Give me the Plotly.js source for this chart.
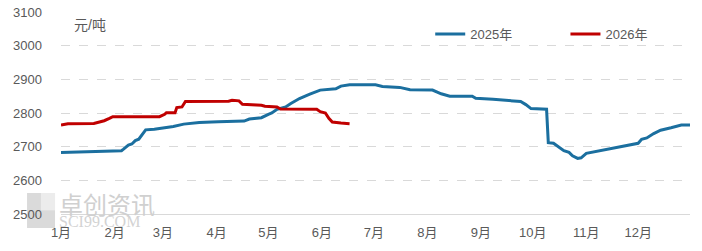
<!DOCTYPE html>
<html><head><meta charset="utf-8">
<script src="https://cdn.plot.ly/plotly-3.0.1.min.js"></script>
<style>html,body{margin:0;padding:0;background:#fff}#chart{width:702px;height:251px}</style>
</head><body><div id="chart"></div>
<script>
// Month-day positions (shared calendar axis)
const dates2025 = ["01-01","01-12","01-23","02-05","02-06","02-09","02-11","02-13","02-15","02-17","02-19","02-24","03-02","03-07","03-13","03-22","04-02","04-17","04-20","04-27","05-01","05-03","05-06","05-11","05-14","05-19","05-25","05-31","06-09","06-12","06-17","07-02","07-06","07-16","07-22","08-04","08-09","08-14","08-27","08-29","09-08","09-18","09-24","09-27","09-30","10-09","10-10","10-13","10-16","10-19","10-22","10-24","10-27","10-29","11-01","11-05","11-12","11-21","11-27","12-01","12-03","12-06","12-10","12-14","12-20","12-26","12-31"];
const values2025 = [2683,2684,2686,2688,2692,2705,2708,2718,2722,2735,2750,2752,2756,2760,2767,2772,2774,2776,2782,2786,2796,2800,2811,2818,2828,2843,2856,2868,2872,2880,2884,2884,2879,2876,2869,2868,2857,2850,2850,2844,2841,2836,2834,2825,2813,2811,2712,2710,2700,2688,2683,2673,2665,2667,2680,2684,2690,2698,2705,2710,2722,2726,2739,2749,2756,2764,2764];
const dates2026 = ["01-01","01-05","01-20","01-23","01-26","01-29","01-31","02-27","03-02","03-03","03-08","03-09","03-12","03-14","04-08","04-10","04-14","04-16","04-27","04-29","05-06","05-08","05-29","05-31","06-03","06-05","06-07","06-12","06-17"];
const values2026 = [2764,2768,2769,2773,2777,2784,2789,2789,2796,2801,2801,2816,2818,2834,2835,2838,2836,2826,2823,2820,2818,2812,2811,2804,2800,2784,2773,2770,2768];
const seriesNames = ["2025年","2026年"];
const monthLabels = ["1月","2月","3月","4月","5月","6月","7月","8月","9月","10月","11月","12月"];
const yTicks = [2500,2600,2700,2800,2900,3000,3100];
const unitLabel = "元/吨";

const Y = "2025-";
const toX = a => a.map(d => Y + d);
const tickvals = monthLabels.map((_, i) => Y + String(i + 1).padStart(2, "0") + "-01");
const font = "Liberation Sans, Noto Sans CJK SC, sans-serif";

const traces = [
  {x: toX(dates2025), y: values2025, name: seriesNames[0], mode: "lines", legend: "legend",
   line: {color: "#1b6f9f", width: 3}},
  {x: toX(dates2026), y: values2026, name: seriesNames[1], mode: "lines", legend: "legend2",
   line: {color: "#c00000", width: 3}}
];

const legendBase = {orientation: "h", y: 0.965, xanchor: "left", yanchor: "top",
  bgcolor: "rgba(0,0,0,0)", font: {size: 13, color: "#595959"}, itemwidth: 30};

const layout = {
  width: 702, height: 251,
  margin: {l: 61, r: 12, t: 12, b: 37},
  paper_bgcolor: "#fff", plot_bgcolor: "#fff",
  font: {family: font, size: 13, color: "#595959"},
  showlegend: true,
  legend: Object.assign({}, legendBase, {x: 0.587}),
  legend2: Object.assign({}, legendBase, {x: 0.802}),
  xaxis: {type: "date", range: [Y + "01-01", Y + "12-31"], tickvals: tickvals, ticktext: monthLabels,
          showgrid: false, zeroline: false, showline: true, linecolor: "#d9d9d9", linewidth: 1,
          ticks: "", ticklabelstandoff: 6, tickfont: {size: 13, color: "#595959"}},
  yaxis: {range: [2500, 3100], tickvals: yTicks, showgrid: true, gridcolor: "#d9d9d9",
          griddash: "dash", gridwidth: 1, zeroline: false, showline: false, ticks: "",
          ticklabelstandoff: 18, tickfont: {size: 13, color: "#595959"}},
  annotations: [
    {text: unitLabel, xref: "paper", yref: "paper", x: 0.018, y: 0.985, xanchor: "left", yanchor: "top",
     showarrow: false, font: {size: 14, color: "#595959"}},
    {text: "卓创资讯", xref: "paper", yref: "paper", x: -0.006, y: 0.05, xanchor: "left", yanchor: "middle",
     showarrow: false, font: {size: 24, color: "#d0d0d0", family: "Noto Sans CJK SC"}},
    {text: "SCI99.COM", xref: "paper", yref: "paper", x: -0.006, y: -0.035, xanchor: "left", yanchor: "middle",
     showarrow: false, font: {size: 16, color: "#d3d3d3", family: "Liberation Serif"}}
  ],
  shapes: [
    {type: "rect", xref: "paper", yref: "paper", x0: -0.054, x1: -0.0095, y0: -0.069, y1: 0.104,
     fillcolor: "#dadada", line: {width: 0}, layer: "below"},
    {type: "rect", xref: "paper", yref: "paper", x0: -0.032, x1: -0.0095, y0: 0.018, y1: 0.104,
     fillcolor: "#ececec", line: {width: 0}, layer: "below"}
  ]
};

Plotly.newPlot("chart", traces, layout, {displayModeBar: false, staticPlot: true});
</script></body></html>
